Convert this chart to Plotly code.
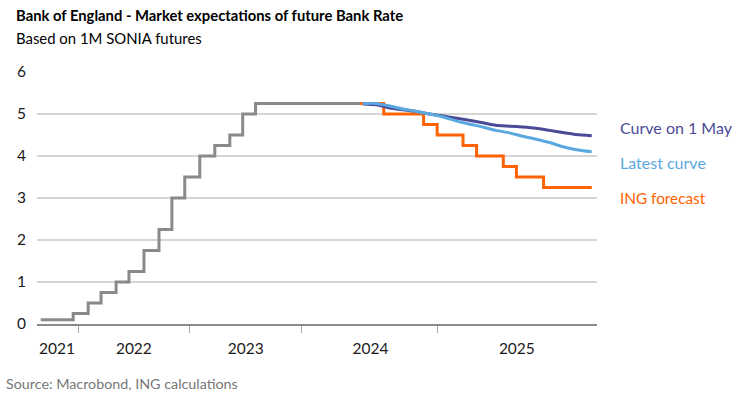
import plotly.graph_objects as go
import datetime as dt

# ---------------- data ----------------
# Bank Rate history (step changes)
hist_dates = ["2021-09-01", "2021-12-16", "2022-02-03", "2022-03-17", "2022-05-05",
              "2022-06-16", "2022-08-04", "2022-09-22", "2022-11-03", "2022-12-15",
              "2023-02-02", "2023-03-23", "2023-05-11", "2023-06-22", "2023-08-03",
              "2024-07-09"]
hist_rate = [0.10, 0.25, 0.50, 0.75, 1.00, 1.25, 1.75, 2.25, 3.00, 3.50,
             4.00, 4.25, 4.50, 5.00, 5.25, 5.25]

# Futures-implied curves (monthly)
curve_dates = ["2024-07-15", "2024-08-15", "2024-09-15", "2024-10-15", "2024-11-15",
               "2024-12-15", "2025-01-15", "2025-02-15", "2025-03-15", "2025-04-15",
               "2025-05-15", "2025-06-15", "2025-07-15", "2025-08-15", "2025-09-15",
               "2025-10-15", "2025-11-15", "2025-12-20"]
curve_1may = [5.24, 5.22, 5.14, 5.10, 5.06, 5.00, 4.95, 4.90, 4.85, 4.79,
              4.73, 4.71, 4.69, 4.66, 4.61, 4.56, 4.51, 4.48]
curve_latest = [5.25, 5.25, 5.19, 5.12, 5.06, 5.00, 4.93, 4.83, 4.76, 4.69,
                4.61, 4.55, 4.47, 4.40, 4.32, 4.22, 4.15, 4.10]

# ING forecast (steps)
ing_dates = ["2024-07-09", "2024-09-01", "2024-12-01", "2025-01-01", "2025-03-01",
             "2025-04-01", "2025-06-01", "2025-07-01", "2025-09-01", "2025-12-20"]
ing_rate = [5.25, 5.00, 4.75, 4.50, 4.25, 4.00, 3.75, 3.50, 3.25, 3.25]

year_labels = ["2021", "2022", "2023", "2024", "2025"]
hist_label_pos = ["2021-10-24", "2022-07-02", "2023-07-02"]
fut_label_pos = ["2024-08-02", "2025-07-02"]
hist_year_ticks = ["2022-01-01", "2023-01-01", "2024-01-01"]
fut_year_ticks = ["2025-01-01"]

hist_range = ["2021-08-20", "2024-07-09"]
fut_range = ["2024-07-09", "2026-01-01"]

# ---------------- styling ----------------
GREY = "#8a8a8a"
ORANGE = "#FF6200"
PURPLE = "#4B4A96"
BLUE = "#5AA8E0"
FONT = "Lato"

W, H = 734, 396
ML, MR, MT, MB = 37, 137, 72, 72

# split of plot width proportional to time span at two scales (112 px/yr vs 160 px/yr)
def days(a, b):
    return (dt.date.fromisoformat(b) - dt.date.fromisoformat(a)).days
h_px = days(*hist_range) / 365.25 * 112
f_px = days(*fut_range) / 365.25 * 160
split = h_px / (h_px + f_px)

fig = go.Figure()
fig.add_trace(go.Scatter(x=hist_dates, y=hist_rate, mode="lines", line_shape="hv",
                         line=dict(color=GREY, width=3), xaxis="x", yaxis="y",
                         showlegend=False))
fig.add_trace(go.Scatter(x=ing_dates, y=ing_rate, mode="lines", line_shape="hv",
                         line=dict(color=ORANGE, width=3), xaxis="x2", yaxis="y",
                         showlegend=False))
fig.add_trace(go.Scatter(x=curve_dates, y=curve_1may, mode="lines", line_shape="spline",
                         line=dict(color=PURPLE, width=3, smoothing=0.6), xaxis="x2", yaxis="y",
                         showlegend=False))
fig.add_trace(go.Scatter(x=curve_dates, y=curve_latest, mode="lines", line_shape="spline",
                         line=dict(color=BLUE, width=3, smoothing=0.6), xaxis="x2", yaxis="y",
                         showlegend=False))

xcommon = dict(type="date", showgrid=False, zeroline=False, showline=True,
               linecolor=GREY, linewidth=2, ticks="", tickmode="array",
               tickfont=dict(family=FONT, size=15.5, color="#1a1a1a"),
               ticklabelstandoff=9, fixedrange=True)

fig.update_layout(
    width=W, height=H,
    margin=dict(l=ML, r=MR, t=MT, b=MB),
    paper_bgcolor="white", plot_bgcolor="white",
    font=dict(family=FONT, color="#1a1a1a"),
    xaxis=dict(**xcommon, domain=[0, split], range=hist_range, anchor="y",
               tickvals=hist_label_pos, ticktext=year_labels[:3],
               minor=dict(tickmode="array", tickvals=hist_year_ticks, ticks="outside",
                          ticklen=7, tickcolor="#a6a6a6", tickwidth=1, showgrid=False)),
    xaxis2=dict(**xcommon, domain=[split, 1], range=fut_range, anchor="y",
                tickvals=fut_label_pos, ticktext=year_labels[3:],
                minor=dict(tickmode="array", tickvals=fut_year_ticks, ticks="outside",
                           ticklen=7, tickcolor="#a6a6a6", tickwidth=1, showgrid=False)),
    yaxis=dict(range=[0, 6], dtick=1, showgrid=True, gridcolor="#d6d6d6", gridwidth=1.5,
               zeroline=False, showline=False, ticks="", ticklabelstandoff=10,
               tickfont=dict(family=FONT, size=15.5, color="#1a1a1a"), fixedrange=True),
)

ph = H - MT - MB
pw = W - ML - MR
def px_x(p):
    return (p - ML) / pw
def px_y(p):
    return 1 - (p - MT) / ph

anns = [
    dict(text="<b>Bank of England - Market expectations of future Bank Rate</b>",
         x=px_x(14), y=px_y(15), size=14.8, color="#000000"),
    dict(text="Based on 1M SONIA futures", x=px_x(14), y=px_y(37.5), size=14.9, color="#000000"),
    dict(text="Source: Macrobond, ING calculations", x=px_x(4), y=px_y(383), size=14.3, color="#777777"),
    dict(text="Curve on 1 May", x=px_x(618), y=px_y(127.5), size=16, color=PURPLE),
    dict(text="Latest curve", x=px_x(618), y=px_y(162.5), size=16, color=BLUE),
    dict(text="ING forecast", x=px_x(618), y=px_y(197.5), size=15.3, color=ORANGE),
]
for a in anns:
    fig.add_annotation(text=a["text"], xref="paper", yref="paper", x=a["x"], y=a["y"],
                       xanchor="left", yanchor="middle", showarrow=False,
                       font=dict(family=FONT, size=a["size"], color=a["color"]))

fig.write_html("out.html", config={"displayModeBar": False})

# remove default page margin so the figure sits at the window origin
with open("out.html", "r", encoding="utf-8") as f:
    html = f.read()
html = html.replace("<body>", '<body style="margin:0;padding:0;overflow:hidden">', 1)
with open("out.html", "w", encoding="utf-8") as f:
    f.write(html)
